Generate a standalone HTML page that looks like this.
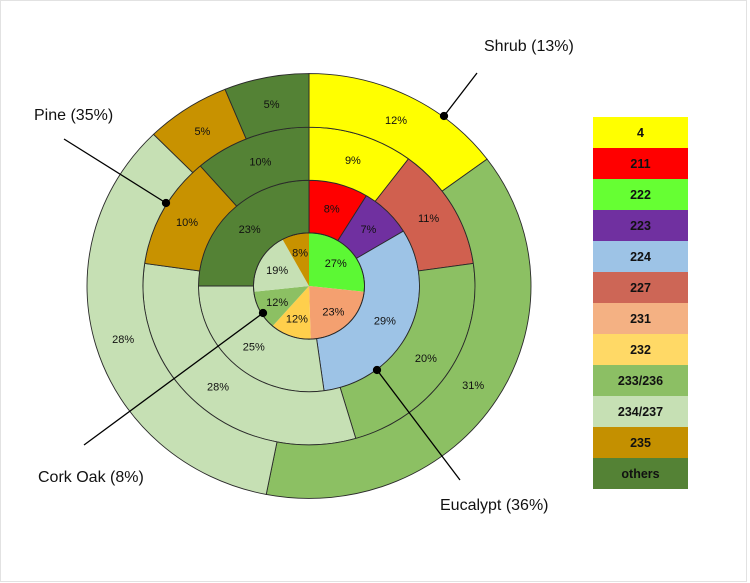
<!DOCTYPE html>
<html><head><meta charset="utf-8"><style>
html,body{margin:0;padding:0;background:#fff;}
svg{display:block;font-family:"Liberation Sans",sans-serif;}
</style></head><body>
<svg id="chart" width="750" height="583" viewBox="0 0 750 583">
<rect x="0.5" y="0.5" width="746" height="581" fill="#fff" stroke="#e2e2e2"/>
<g id="rings"></g>
<g id="labels" font-size="11" fill="#111" text-anchor="middle"></g>
<g id="callouts" stroke="#000" stroke-width="1.3" fill="#000">
<line x1="477" y1="73" x2="444" y2="116"/><circle cx="444" cy="116" r="3.5"/>
<line x1="64" y1="139" x2="166" y2="203"/><circle cx="166" cy="203" r="3.5"/>
<line x1="84" y1="445" x2="263" y2="313"/><circle cx="263" cy="313" r="3.5"/>
<line x1="460" y1="480" x2="377" y2="370"/><circle cx="377" cy="370" r="3.5"/>
</g>
<g font-size="16" fill="#111">
<text x="484" y="51">Shrub (13%)</text>
<text x="34" y="120">Pine (35%)</text>
<text x="38" y="482">Cork Oak (8%)</text>
<text x="440" y="510">Eucalypt (36%)</text>
</g>
<g id="legend" font-size="12.5" font-weight="bold" text-anchor="middle" fill="#111"></g>
</svg>
<script>
const colors = {"4":"#ffff00","211":"#ff0000","222":"#5cf834","223":"#7030a0","224":"#9dc3e6","227":"#d0604f","231":"#f4a070","232":"#ffcf4c","233/236":"#8cc063","234/237":"#c6e0b4","235":"#c89200","others":"#548235"};
const legendCats = ["4","211","222","223","224","227","231","232","233/236","234/237","235","others"];
const legendColors = ["#ffff00","#ff0000","#66ff33","#7030a0","#9dc3e6","#cd6656","#f4b183","#ffd966","#8cbf64","#c6e0b4","#c49000","#548235"];
const ring1Cats = ["222","231","232","233/236","234/237","235"];
const ring1Vals = [27,23,12,12,19,8];
const ring2Cats = ["211","223","224","234/237","others"];
const ring2Vals = [8,7,29,25,23];
const ring3Cats = ["4","227","233/236","234/237","235","others"];
const ring3Vals = [9,11,20,28,10,10];
const ring4Cats = ["4","233/236","234/237","235","others"];
const ring4Vals = [12,31,28,5,5];
const radii = [0,55.5,110.5,166,222];
const cx=309, cy=286, sy=0.957;
const NS="http://www.w3.org/2000/svg";
const ringsG=document.getElementById('rings'), labG=document.getElementById('labels');
function pt(r,a){return [cx+r*Math.sin(a), cy-r*Math.cos(a)*sy];}
function arcPath(r0,r1,a0,a1){
  const large=(a1-a0)>Math.PI?1:0;
  const p1=pt(r1,a0),p2=pt(r1,a1);
  let d=`M${p1[0]},${p1[1]} A${r1},${r1*sy} 0 ${large} 1 ${p2[0]},${p2[1]}`;
  if(r0>0){const p3=pt(r0,a1),p4=pt(r0,a0);d+=` L${p3[0]},${p3[1]} A${r0},${r0*sy} 0 ${large} 0 ${p4[0]},${p4[1]} Z`;}
  else d+=` L${cx},${cy} Z`;
  return d;
}
function drawRing(idx,cats,vals,labR){
  const total=vals.reduce((a,b)=>a+b,0);
  let acc=0;
  cats.forEach((c,i)=>{
    const a0=acc/total*2*Math.PI; acc+=vals[i]; const a1=acc/total*2*Math.PI;
    const p=document.createElementNS(NS,'path');
    p.setAttribute('d',arcPath(radii[idx],radii[idx+1],a0,a1));
    p.setAttribute('fill',colors[c]);
    p.setAttribute('stroke',idx===0?'none':'#2a2a2a');
    p.setAttribute('stroke-width','0.9');
    
    
    ringsG.appendChild(p);
    const m=pt(labR,(a0+a1)/2);
    const t=document.createElementNS(NS,'text');
    t.setAttribute('x',m[0]);t.setAttribute('y',m[1]+4);
    t.textContent=vals[i]+'%';
    
    
    labG.appendChild(t);
  });
}
drawRing(0,ring1Cats,ring1Vals,36);
drawRing(1,ring2Cats,ring2Vals,84);
drawRing(2,ring3Cats,ring3Vals,139);
drawRing(3,ring4Cats,ring4Vals,194);
const outline=document.createElementNS(NS,'ellipse');
outline.setAttribute('cx',cx);outline.setAttribute('cy',cy);outline.setAttribute('rx',radii[1]);outline.setAttribute('ry',radii[1]*sy);
outline.setAttribute('fill','none');outline.setAttribute('stroke','#2a2a2a');outline.setAttribute('stroke-width','0.9');


ringsG.appendChild(outline);
const legG=document.getElementById('legend');
legendCats.forEach((c,i)=>{
  const y=117+i*31;
  const r=document.createElementNS(NS,'rect');
  r.setAttribute('x',593);r.setAttribute('y',y);r.setAttribute('width',95);r.setAttribute('height',31);
  r.setAttribute('fill',legendColors[i]);
  
  
  legG.appendChild(r);
  const t=document.createElementNS(NS,'text');
  t.setAttribute('x',640.5);t.setAttribute('y',y+20);t.textContent=c;
  
  
  legG.appendChild(t);
});
</script>
</body></html>
